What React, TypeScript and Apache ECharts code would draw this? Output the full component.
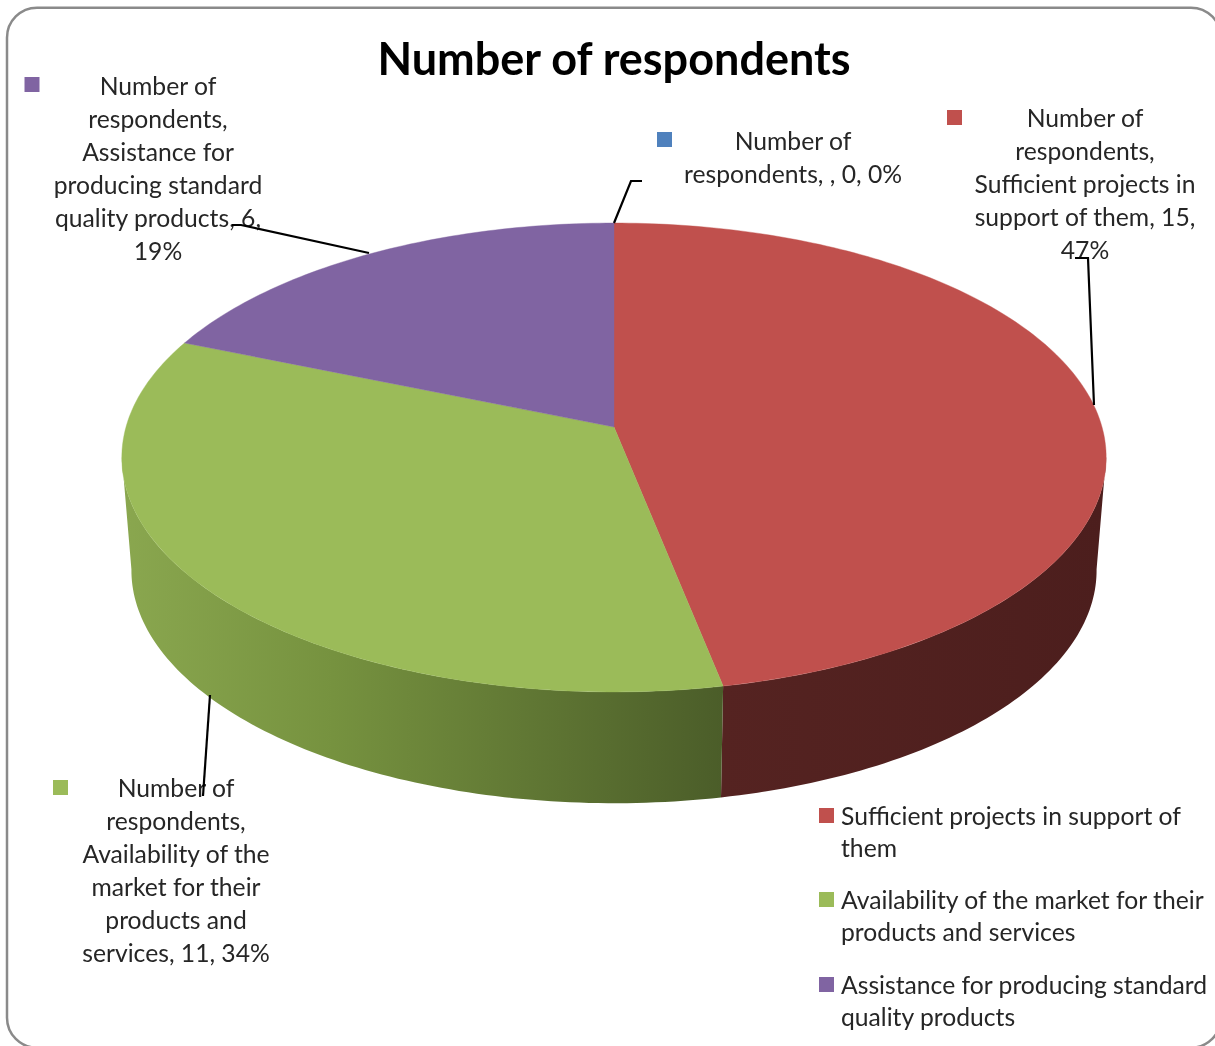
import React, { useEffect, useRef } from "react";
import * as echarts from "echarts";

const titleText = "Number of respondents";
const seriesName = "Number of respondents";
const categories = [
  "",
  "Sufficient projects in support of them",
  "Availability of the market for their products and services",
  "Assistance for producing standard quality products",
];
const values = [0, 15, 11, 6];
const sliceColors = ["#4F81BD", "#C0504D", "#9BBB59", "#8064A2"];
const labelLines = [
  ["Number of", "respondents, , 0, 0%"],
  ["Number of", "respondents,", "Sufficient projects in", "support of them, 15,", "47%"],
  ["Number of", "respondents,", "Availability of the", "market for their", "products and", "services, 11, 34%"],
  ["Number of", "respondents,", "Assistance for", "producing standard", "quality products, 6,", "19%"],
];
const legendLines = [
  ["Sufficient projects in support of", "them"],
  ["Availability of the market for their", "products and services"],
  ["Assistance for producing standard", "quality products"],
];
const legendColors = ["#C0504D", "#9BBB59", "#8064A2"];

const FONT = "Lato";
const TEXT = "#262626";
const FONT_SIZE = 24.7;
const total = values.reduce((a, b) => a + b, 0);

const CX = 614;
const TOP_Y = 427;
const BOT_Y = 540;
const K = 0.13;
const TOP_A = 488;
const TOP_B = 230.5;
const BOT_A = 478.5;
const BOT_B = 229;
const SIDE_START = 0.27;
const SIDE_END = 0.73;

function rim(frac: number, a: number, b: number, y0: number): number[] {
  const t = frac * Math.PI * 2;
  const u = Math.sin(t);
  const v = -Math.cos(t);
  const w = 1 - K * v;
  return [CX + (a * u) / w, y0 + (b * v) / w];
}

function arcPoints(f0: number, f1: number, a: number, b: number, y0: number): number[][] {
  const n = Math.max(2, Math.ceil((f1 - f0) * 360));
  const pts: number[][] = [];
  for (let i = 0; i <= n; i++) pts.push(rim(f0 + ((f1 - f0) * i) / n, a, b, y0));
  return pts;
}

function range(i: number): [number, number] {
  let s = 0;
  for (let j = 0; j < i; j++) s += values[j];
  return [s / total, (s + values[i]) / total];
}

const sideFills: any = {
  1: new echarts.graphic.LinearGradient(0, 0, 1, 0, [
    { offset: 0, color: "#552321" },
    { offset: 1, color: "#4C1E1D" },
  ]),
  2: new echarts.graphic.LinearGradient(0, 0, 1, 0, [
    { offset: 0, color: "#8AA74F" },
    { offset: 0.35, color: "#76923F" },
    { offset: 1, color: "#4B5D29" },
  ]),
};

function renderTop(params: any) {
  const i = params.dataIndex;
  const [f0, f1] = range(i);
  if (f1 <= f0) return { type: "group", children: [] };
  const points = [[CX, TOP_Y], ...arcPoints(f0, f1, TOP_A, TOP_B, TOP_Y)];
  return {
    type: "polygon",
    shape: { points },
    style: { fill: sliceColors[i], stroke: sliceColors[i], lineWidth: 0.4 },
  };
}

function renderSide(params: any) {
  const i = params.dataIndex;
  const [r0, r1] = range(i);
  const f0 = Math.max(r0, SIDE_START);
  const f1 = Math.min(r1, SIDE_END);
  if (f1 <= f0) return { type: "group", children: [] };
  const upper = arcPoints(f0, f1, TOP_A, TOP_B, TOP_Y);
  const lower = arcPoints(f0, f1, BOT_A, BOT_B, BOT_Y).reverse();
  return {
    type: "polygon",
    shape: { points: [...upper, ...lower] },
    style: { fill: sideFills[i] || sliceColors[i] },
  };
}

const labelBoxes = [
  { x: 793, y: 140, mx: 657, my: 132 },
  { x: 1085, y: 117, mx: 947, my: 110 },
  { x: 176, y: 787, mx: 53, my: 780 },
  { x: 158, y: 85, mx: 24.5, my: 77 },
];
const leaders = [
  [[614, 223], [631, 181], [642, 181]],
  [[1094, 405], [1088, 258], [1075, 258]],
  [[210, 695], [203, 796]],
  [[369, 253], [241, 225], [232, 225]],
];
const legendY = [815, 899, 984];

function buildGraphic() {
  const els: any[] = [
    {
      type: "rect",
      silent: true,
      z: -10,
      shape: { x: 7, y: 7.7, width: 1214, height: 1040, r: 30 },
      style: { fill: "#fff", stroke: "#8A8A8A", lineWidth: 2.5 },
    },
  ];
  labelLines.forEach((lines, i) => {
    const b = labelBoxes[i];
    els.push({ type: "rect", z: 5, shape: { x: b.mx, y: b.my, width: 15, height: 15 }, style: { fill: sliceColors[i] } });
    els.push({
      type: "polyline",
      z: 6,
      shape: { points: leaders[i] },
      style: { stroke: "#000", lineWidth: 2.2, fill: "none" },
    });
    lines.forEach((line, j) => {
      els.push({
        type: "text",
        z: 5,
        x: b.x,
        y: b.y + j * 33,
        style: { text: line, fill: TEXT, font: `${FONT_SIZE}px ${FONT}`, textAlign: "center", textVerticalAlign: "middle" },
      });
    });
  });
  legendLines.forEach((lines, i) => {
    els.push({ type: "rect", z: 5, shape: { x: 819, y: legendY[i] - 7, width: 15, height: 15 }, style: { fill: legendColors[i] } });
    lines.forEach((line, j) => {
      els.push({
        type: "text",
        z: 5,
        x: 841,
        y: legendY[i] + j * 32,
        style: { text: line, fill: TEXT, font: `${FONT_SIZE}px ${FONT}`, textAlign: "left", textVerticalAlign: "middle" },
      });
    });
  });
  return els;
}

export default function App() {
  const ref = useRef<HTMLDivElement>(null);
  useEffect(() => {
    const chart = echarts.init(ref.current!, undefined, { renderer: "svg" });
    chart.setOption({
      animation: false,
      backgroundColor: "#fff",
      title: {
        text: titleText,
        left: 609,
        top: 30,
        textAlign: "center",
        textStyle: { fontFamily: FONT, fontSize: 45, fontWeight: "bold", color: "#000" },
      },
      graphic: buildGraphic(),
      series: [
        {
          type: "custom",
          name: seriesName + " side",
          coordinateSystem: "none",
          renderItem: renderSide,
          data: values.map((v, i) => ({ name: categories[i], value: [v] })),
          z: 1,
          silent: true,
        },
        {
          type: "custom",
          name: seriesName,
          coordinateSystem: "none",
          renderItem: renderTop,
          data: values.map((v, i) => ({ name: categories[i], value: [v] })),
          z: 2,
          silent: true,
        },
      ],
    });
    return () => chart.dispose();
  }, []);
  return <div ref={ref} style={{ position: "absolute", left: 0, top: 0, width: 1215, height: 1046, filter: "blur(0.4px)" }} />;
}
